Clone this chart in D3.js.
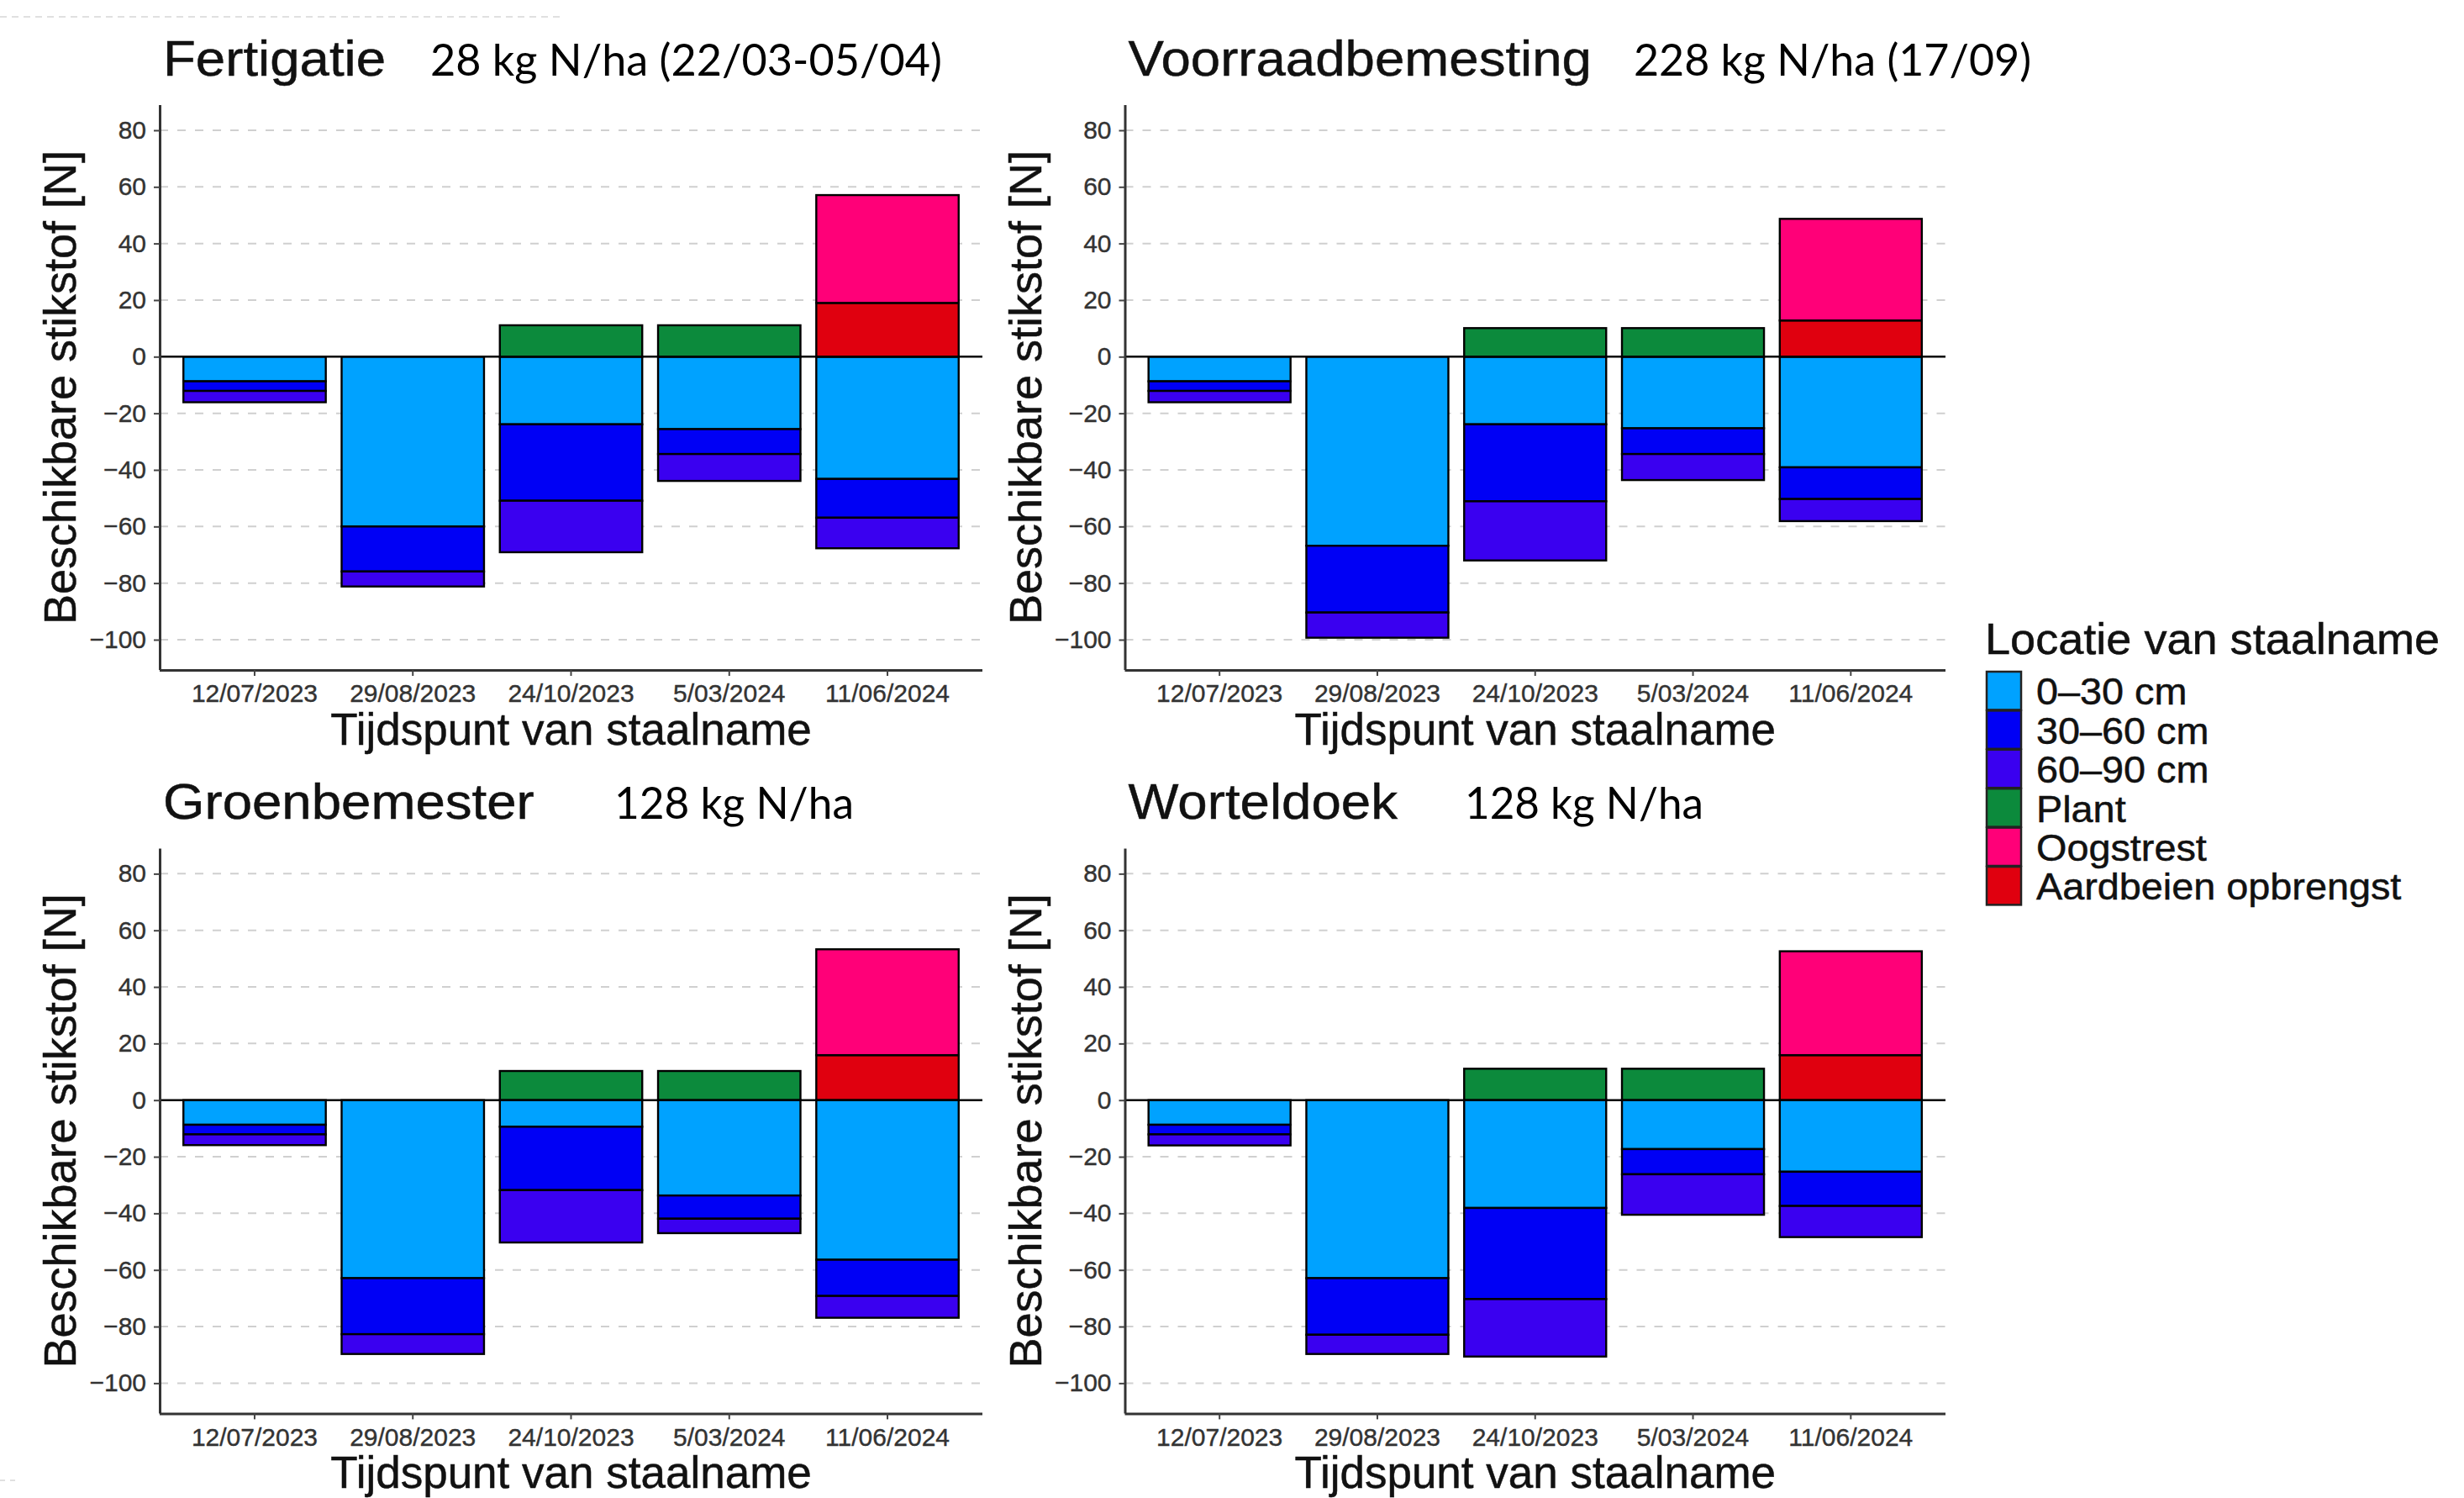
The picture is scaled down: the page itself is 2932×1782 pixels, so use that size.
<!DOCTYPE html>
<html><head><meta charset="utf-8">
<script src="https://cdn.jsdelivr.net/npm/d3@7"></script>
<style>body{margin:0;background:#fff} svg{display:block;background:#fff}</style>
</head><body>
<svg id="c" width="2932" height="1782"></svg>
<script>
// ---------- DATA ----------
const categories = ["12/07/2023", "29/08/2023", "24/10/2023", "5/03/2024", "11/06/2024"];
const legendLabels = ["0–30 cm", "30–60 cm", "60–90 cm", "Plant", "Oogstrest", "Aardbeien opbrengst"];
const legendColors = ["#00a2ff", "#0000f5", "#3a00f0", "#0c8a3c", "#ff0078", "#e0000f"];
const stackKeys = ["0–30 cm", "30–60 cm", "60–90 cm", "Plant", "Aardbeien opbrengst", "Oogstrest"];
const panelTitles = ["Fertigatie", "Voorraadbemesting", "Groenbemester", "Worteldoek"];
const panelNotes = ["28 kg N/ha (22/03-05/04)", "228 kg N/ha (17/09)", "128 kg N/ha", "128 kg N/ha"];
const yTickValues = [80, 60, 40, 20, 0, -20, -40, -60, -80, -100];

// one row per panel (Fertigatie, Voorraadbemesting, Groenbemester, Worteldoek)
const soil0to30 = [
  [-8.7, -60.0, -23.9, -25.6, -43.2],
  [-8.7, -66.8, -23.9, -25.3, -39.1],
  [-8.7, -62.9, -9.4, -33.7, -56.4],
  [-8.7, -62.9, -38.1, -17.3, -25.3]
];
const soil30to60 = [
  [-3.4, -15.9, -27.0, -8.8, -13.7],
  [-3.4, -23.6, -27.2, -9.1, -11.2],
  [-3.4, -19.8, -22.4, -8.2, -12.8],
  [-3.4, -20.0, -32.2, -8.9, -12.1]
];
const soil60to90 = [
  [-4.0, -5.3, -18.2, -9.5, -10.8],
  [-4.0, -8.9, -20.9, -9.2, -7.8],
  [-3.8, -7.0, -18.5, -5.1, -7.7],
  [-3.9, -6.8, -20.3, -14.3, -11.0]
];
const plant = [
  [0, 0, 11.1, 11.1, 0],
  [0, 0, 10.1, 10.1, 0],
  [0, 0, 10.3, 10.3, 0],
  [0, 0, 11.1, 11.1, 0]
];
const oogstrest = [
  [0, 0, 0, 0, 38.1],
  [0, 0, 0, 0, 35.9],
  [0, 0, 0, 0, 37.4],
  [0, 0, 0, 0, 36.7]
];
const aardbeien = [
  [0, 0, 0, 0, 19.0],
  [0, 0, 0, 0, 12.8],
  [0, 0, 0, 0, 15.9],
  [0, 0, 0, 0, 15.9]
];

// ---------- LAYOUT ----------
const svg = d3.select("#c");
const FONT = "'Liberation Sans', Arial, Helvetica, sans-serif";
const panels = [
  {x0: 190, x1: 1169, top: 125, bottom: 797},
  {x0: 1338.5, x1: 2315, top: 125, bottom: 797},
  {x0: 190, x1: 1169, top: 1009.4, bottom: 1681.4},
  {x0: 1338.5, x1: 2315, top: 1009.4, bottom: 1681.4}
];
const noteX = [[512, 1121], [1944, 2417], [731, 1016], [1743, 2027]];
const color = d3.scaleOrdinal(legendLabels, legendColors);

// faint artefacts of the original image
svg.append("line").attr("x1", 0).attr("x2", 666).attr("y1", 20).attr("y2", 20)
  .attr("stroke", "#d6d6d6").attr("stroke-width", 1.5).attr("stroke-dasharray", "8,6");
svg.append("line").attr("x1", 0).attr("x2", 20).attr("y1", 1761).attr("y2", 1761)
  .attr("stroke", "#d6d6d6").attr("stroke-width", 1.5).attr("stroke-dasharray", "6,6");

panels.forEach((P, p) => {
  const g = svg.append("g");
  const x = d3.scaleBand().domain(categories).range([P.x0, P.x1]).paddingInner(0.1).paddingOuter(0.15);
  const y = d3.scaleLinear().domain([-110.7, 88.9]).range([P.bottom, P.top]);

  const rows = categories.map((c, i) => ({
    cat: c,
    "0–30 cm": soil0to30[p][i],
    "30–60 cm": soil30to60[p][i],
    "60–90 cm": soil60to90[p][i],
    "Plant": plant[p][i],
    "Oogstrest": oogstrest[p][i],
    "Aardbeien opbrengst": aardbeien[p][i]
  }));

  // grid
  g.append("g").selectAll("line").data(yTickValues.filter(v => v !== 0)).join("line")
    .attr("x1", P.x0).attr("x2", P.x1)
    .attr("y1", d => y(d)).attr("y2", d => y(d))
    .attr("stroke", "#d0d0d0").attr("stroke-width", 2).attr("stroke-dasharray", "10,11");

  // bars
  const series = d3.stack().keys(stackKeys).offset(d3.stackOffsetDiverging)(rows);
  series.forEach(s => {
    g.append("g").attr("fill", color(s.key)).selectAll("rect")
      .data(s.filter(d => Math.abs(d[1] - d[0]) > 1e-9)).join("rect")
      .attr("x", d => x(d.data.cat))
      .attr("width", x.bandwidth())
      .attr("y", d => y(Math.max(d[0], d[1])))
      .attr("height", d => Math.abs(y(d[0]) - y(d[1])))
      .attr("stroke", "#000").attr("stroke-width", 2.4);
  });

  // zero line
  g.append("line").attr("x1", P.x0).attr("x2", P.x1).attr("y1", y(0)).attr("y2", y(0))
    .attr("stroke", "#000").attr("stroke-width", 2.4);

  // axes
  const ya = g.append("g").attr("transform", `translate(${P.x0},0)`)
    .call(d3.axisLeft(y).tickValues(yTickValues).tickSize(7).tickSizeOuter(0).tickPadding(9));
  const xa = g.append("g").attr("transform", `translate(0,${P.bottom})`)
    .call(d3.axisBottom(x).tickSize(7).tickSizeOuter(0).tickPadding(10));
  [ya, xa].forEach(a => {
    a.select(".domain").attr("stroke", "#333").attr("stroke-width", 3);
    a.selectAll(".tick line").attr("stroke", "#444").attr("stroke-width", 2);
    a.selectAll(".tick text").attr("fill", "#333").attr("font-family", FONT).attr("font-size", 30)
      .attr("stroke", "#333").attr("stroke-width", 0.4);
  });
  ya.select(".domain").attr("d", `M0.5,${P.top}V${P.bottom}`);
  xa.select(".domain").attr("d", `M${P.x0},0.5H${P.x1}`);
  xa.selectAll(".tick text").attr("dy", "0.71em");

  // axis titles
  g.append("text").attr("transform", `translate(${P.x0 - 100},${(P.top + P.bottom) / 2}) rotate(-90)`)
    .attr("text-anchor", "middle").attr("font-family", FONT).attr("font-size", 54).attr("fill", "#111")
    .attr("stroke", "#111").attr("stroke-width", 0.5)
    .text("Beschikbare stikstof [N]");
  g.append("text").attr("x", (P.x0 + P.x1) / 2).attr("y", P.bottom + 89)
    .attr("text-anchor", "middle").attr("font-family", FONT).attr("font-size", 53).attr("fill", "#111")
    .attr("stroke", "#111").attr("stroke-width", 0.5)
    .text("Tijdspunt van staalname");

  // panel title
  g.append("text").attr("transform", `translate(${P.x0 + 4},${P.top - 35}) scale(1.06,1)`)
    .attr("font-family", FONT).attr("font-size", 60).attr("fill", "#111")
    .attr("stroke", "#111").attr("stroke-width", 0.5)
    .text(panelTitles[p]);

  // annotation
  const [nx0, nx1] = noteX[p];
  g.append("text").attr("x", nx0).attr("y", P.top - 35)
    .attr("font-family", "Lato, 'Open Sans', sans-serif").attr("font-size", 52).attr("fill", "#000")
    .attr("textLength", nx1 - nx0).attr("lengthAdjust", "spacingAndGlyphs")
    .text(panelNotes[p]);
});

// ---------- LEGEND ----------
const lg = svg.append("g");
lg.append("text").attr("transform", "translate(2362,778) scale(1.04,1)")
  .attr("font-family", FONT).attr("font-size", 52).attr("fill", "#111")
  .attr("stroke", "#111").attr("stroke-width", 0.5).text("Locatie van staalname");
const step = 46.4;
lg.selectAll("rect").data(legendLabels).join("rect")
  .attr("x", 2364).attr("y", (d, i) => 799 + i * step)
  .attr("width", 41).attr("height", step - 1)
  .attr("fill", d => color(d)).attr("stroke", "#222").attr("stroke-width", 2.5);
lg.selectAll("text.lab").data(legendLabels).join("text").attr("class", "lab")
  .attr("transform", (d, i) => `translate(2423,${799 + i * step + step / 2}) scale(1.04,1)`)
  .attr("dy", "0.36em").attr("font-family", FONT).attr("font-size", 45).attr("fill", "#111")
  .attr("stroke", "#111").attr("stroke-width", 0.5)
  .text(d => d);
</script>
</body></html>
